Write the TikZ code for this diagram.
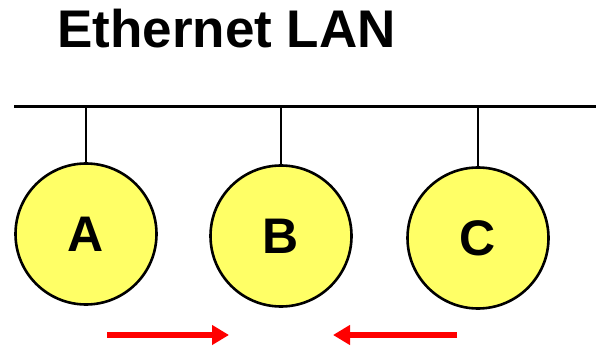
\documentclass[tikz,border=0pt]{standalone}
\usepackage{fontspec}
\setmainfont{Liberation Sans}
\usetikzlibrary{arrows.meta}
\definecolor{hostfill}{RGB}{255,255,102}
\definecolor{arrred}{RGB}{255,0,0}
\tikzset{
  host/.style={circle, draw=black, line width=2.6pt, fill=hostfill, minimum size=141pt, inner sep=0pt, font=\fontsize{50}{50}\selectfont\bfseries},
  stem/.style={line width=1.8pt},
  bus/.style={line width=3pt},
  flow/.style={draw=arrred, line width=6pt, -{Triangle[length=17pt,width=19pt]}}
}
\begin{document}
\begin{tikzpicture}[x=1pt,y=-1pt]
\useasboundingbox (0,0) rectangle (596,347);
\node[anchor=base west, inner sep=0pt, font=\fontsize{53}{53}\selectfont\bfseries] (title) at (57,48) {Ethernet LAN};
\coordinate (busL) at (14,107);
\coordinate (busR) at (596,107);
\draw[bus] (busL) -- (busR);
\node[host] (A) at (86,234) {A};
\node[host] (B) at (281,236) {B};
\node[host] (C) at (478,238) {C};
\coordinate (tA) at (86,107);
\coordinate (tB) at (281,107);
\coordinate (tC) at (478,107);
\draw[stem] (tA) -- (A.north);
\draw[stem] (tB) -- (B.north);
\draw[stem] (tC) -- (C.north);
\coordinate (a1s) at (107,335);
\coordinate (a1e) at (229,335);
\coordinate (a2s) at (457,335);
\coordinate (a2e) at (333,335);
\draw[flow] (a1s) -- (a1e);
\draw[flow] (a2s) -- (a2e);
\end{tikzpicture}
\end{document}
